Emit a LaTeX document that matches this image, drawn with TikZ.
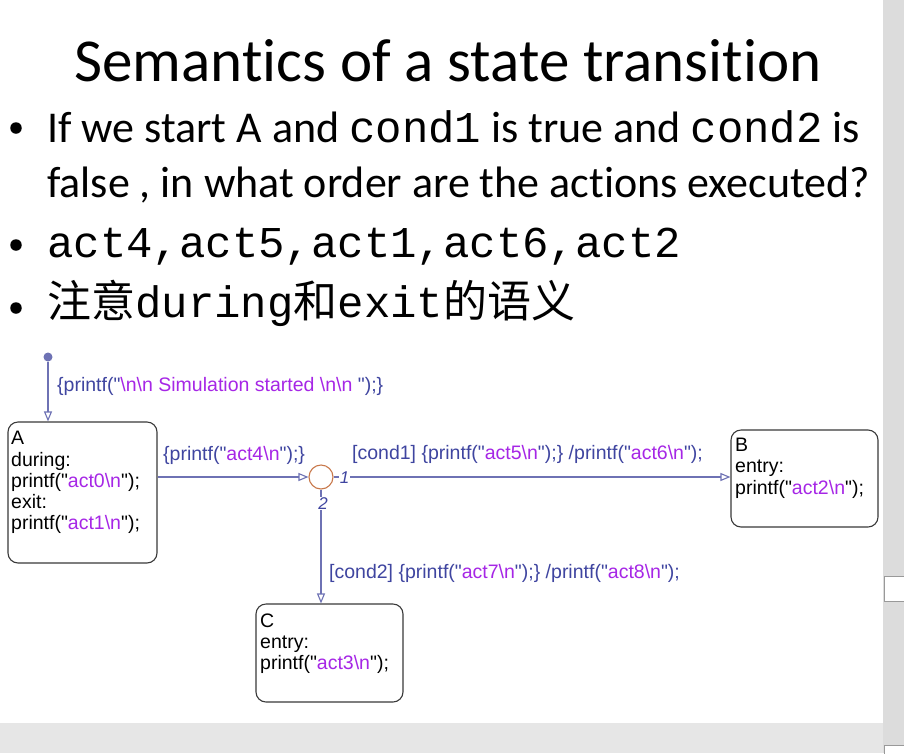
\documentclass[tikz,border=0pt]{standalone}
\usepackage{fontspec}
\setmainfont{Carlito}[Ligatures={NoCommon}]
\newfontfamily\arialf{Liberation Sans}
\newfontfamily\courf{Liberation Mono}
\newfontfamily\cjk{Noto Sans CJK SC}
\usetikzlibrary{arrows.meta,calc}

\definecolor{trans}{HTML}{6E72B4}
\definecolor{lbl}{HTML}{3F45A0}
\definecolor{strc}{HTML}{A626E6}
\definecolor{junc}{HTML}{C8784A}
\definecolor{stateedge}{HTML}{3A3A3A}
\definecolor{stripgray}{HTML}{DCDCDC}
\definecolor{bandgray}{HTML}{E6E6E6}

\newcommand{\str}[1]{\textcolor{strc}{#1}}
\newcommand{\bs}{\char`\\}

\tikzset{
  x=1pt, y=-1pt,
  statebox/.style={draw=stateedge, line width=1.1pt, rounded corners=10pt,
    rectangle, inner sep=0pt, fill=white},
  transline/.style={draw=trans, line width=1.1pt,
    -{Triangle[open, length=10pt, width=8pt]}},
  dtext/.style={font=\arialf\fontsize{19.5}{21.5}\selectfont, inner sep=0pt,
    anchor=base west},
  tlabel/.style={dtext, text=lbl},
  bigtext/.style={font=\fontsize{44}{53}\selectfont, inner sep=0pt, anchor=base west},
  bulletdot/.style={circle, fill=black, inner sep=0pt, minimum size=11.5pt},
  junclabel/.style={font=\arialf\itshape\fontsize{17}{17}\selectfont, text=lbl,
    fill=white, inner sep=1pt},
}

\begin{document}
\begin{tikzpicture}
\useasboundingbox (0,0) rectangle (904,753);
\fill[white] (0,0) rectangle (904,753);

% window chrome
\fill[stripgray] (883,0) rectangle (904,753);
\fill[bandgray] (0,723) rectangle (883,753);
\draw[fill=white, draw=gray!80, line width=0.8pt] (884,576) rectangle (905,601);
\draw[fill=white, draw=gray!80, line width=0.8pt] (884,745) rectangle (905,755);

% title
\node[font=\fontsize{61}{70}\selectfont, inner sep=0pt, anchor=base] (title)
  at (448,81) {Semantics of a state transition};

% bullets
\node[bulletdot] (b1) at (16,128) {};
\node[bulletdot] (b2) at (16,245) {};
\node[bulletdot] (b3) at (16,308) {};

\node[bigtext] (q1) at (47,142)
  {If we start A and {\courf cond1} is true and {\courf cond2} is};
\node[bigtext] (q2) at (47,197)
  {false , in what order are the actions executed?};
\node[bigtext, font=\courf\fontsize{44}{53}\selectfont] (ans) at (47,257)
  {act4,act5,act1,act6,act2};
\node[bigtext, font=\courf\fontsize{44}{53}\selectfont] (note) at (47,317)
  {{\cjk 注意}during{\cjk 和}exit{\cjk 的语义}};

% states
\node[statebox, minimum width=149pt, minimum height=141pt] (A) at (82.5,492.5) {};
\node[statebox, minimum width=147pt, minimum height=97pt] (B) at (804.5,478.5) {};
\node[statebox, minimum width=147pt, minimum height=98pt] (C) at (329.5,653) {};

% junction and default transition
\node[circle, draw=junc, line width=1.1pt, minimum size=24pt, inner sep=0pt, fill=white]
  (J) at (321,477) {};
\node[circle, fill=trans, inner sep=0pt, minimum size=9pt] (init) at (48,357) {};

% state contents
\node[dtext] (Atxt) at (11,444) {A};
\node[dtext] at (11,466) {during:};
\node[dtext] at (11,487) {printf("\str{act0\bs n}");};
\node[dtext] at (11,508) {exit:};
\node[dtext] at (11,529) {printf("\str{act1\bs n}");};

\node[dtext] (Btxt) at (735,451) {B};
\node[dtext] at (735,472) {entry:};
\node[dtext] at (735,494) {printf("\str{act2\bs n}");};

\node[dtext] (Ctxt) at (260,627) {C};
\node[dtext] at (260,648) {entry:};
\node[dtext] at (260,669) {printf("\str{act3\bs n}");};

% transitions
\draw[transline] (init) -- (init |- A.north);
\draw[transline] (J.west -| A.east) -- (J.west);
\draw[transline] (J.east) -- (J.east -| B.west);
\draw[transline] (J.south) -- (J.south |- C.north);

\node[junclabel] (n1) at ($(J.east)+(11,1)$) {1};
\node[junclabel] (n2) at ($(J.south)+(2,14)$) {2};

% transition labels
\node[tlabel] (l0) at (57,391)
  {\{printf("\str{\bs n\bs n Simulation started \bs n\bs n }");\}};
\node[tlabel] (l1) at (163,460) {\{printf("\str{act4\bs n}");\}};
\node[tlabel] (l2) at (352,459)
  {[cond1] \{printf("\str{act5\bs n}");\} /printf("\str{act6\bs n}");};
\node[tlabel] (l3) at (329,578)
  {[cond2] \{printf("\str{act7\bs n}");\} /printf("\str{act8\bs n}");};
\end{tikzpicture}
\end{document}
